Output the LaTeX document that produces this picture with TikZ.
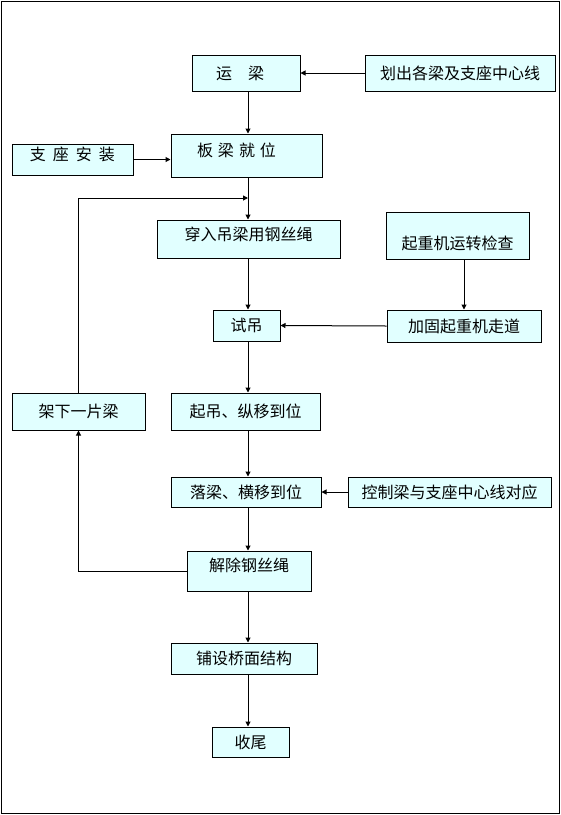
\documentclass[tikz,border=0pt]{standalone}
\usepackage{fontspec}
\usepackage{xcolor}
\usepackage{tikz}
\usetikzlibrary{arrows.meta}
\newfontfamily\cjk{Noto Sans CJK SC}
\definecolor{boxcyan}{HTML}{E1FFFF}
\newcommand\nudge[3]{\hspace*{#1}\raisebox{#2}[\height][\depth]{#3}\hspace*{-#1}}

\begin{document}
\begin{tikzpicture}[x=1pt,y=-1pt,
  box/.style={draw,fill=boxcyan,inner sep=0pt,line width=1pt},
  flow/.style={line width=1pt,-{Triangle[length=5pt,width=5pt]}},
  every node/.style={font=\cjk\fontsize{16}{18}\selectfont}]
  \useasboundingbox (0,0) rectangle (561,815);
  \draw[line width=1pt] (1,1) rectangle (559,813);
  % main column
  \node[box,minimum width=108pt,minimum height=36pt] (yunliang) at (246,73) {\nudge{-6pt}{0pt}{运\hspace{16pt}梁}};
  \node[box,minimum width=151pt,minimum height=43pt] (banliang) at (246.5,155.5)
    {\nudge{-10pt}{5.5pt}{板\hspace{5pt}梁\hspace{5pt}就\hspace{5pt}位}};
  \node[box,minimum width=183pt,minimum height=38pt] (chuanru) at (248.5,239) {\nudge{0pt}{5pt}{穿入吊梁用钢丝绳}};
  \node[box,minimum width=67pt,minimum height=31pt] (shidiao) at (246.5,325.5) {试吊};
  \node[box,minimum width=149pt,minimum height=37pt] (qidiao) at (245.5,411.5) {起吊、纵移到位};
  \node[box,minimum width=150pt,minimum height=30pt] (luoliang) at (246,492) {落梁、横移到位};
  \node[box,minimum width=124pt,minimum height=40pt] (jiechu) at (249,571) {\nudge{0pt}{6pt}{解除钢丝绳}};
  \node[box,minimum width=146pt,minimum height=31pt] (puse) at (244,658.5) {铺设桥面结构};
  \node[box,minimum width=77pt,minimum height=30pt] (shouwei) at (250.5,742) {收尾};
  % side boxes
  \node[box,minimum width=190pt,minimum height=36pt] (huachu) at (460,73) {划出各梁及支座中心线};
  \node[box,minimum width=121pt,minimum height=31pt] (zhizuo) at (72.5,159.5)
    {\nudge{0pt}{5pt}{支\hspace{7pt}座\hspace{7pt}安\hspace{7pt}装}};
  \node[box,minimum width=143pt,minimum height=47pt] (qizhongji) at (457.5,235.5) {\nudge{0pt}{-7.5pt}{起重机运转检查}};
  \node[box,minimum width=154pt,minimum height=32pt] (jiagu) at (464,326) {加固起重机走道};
  \node[box,minimum width=133pt,minimum height=37pt] (jiaxia) at (78.5,411.5) {架下一片梁};
  \node[box,minimum width=203pt,minimum height=30pt] (kongzhi) at (449.5,492) {控制梁与支座中心线对应};
  \coordinate (spine) at (248,0);
  \coordinate (loopin) at (248,198);
  % connectors
  \draw[flow] (huachu.west) -- (yunliang.east);
  \draw[flow] (yunliang.south -| spine) -- (banliang.north -| spine);
  \draw[flow] (zhizuo.east) -- (zhizuo.east -| banliang.west);
  \draw[flow] (banliang.south -| spine) -- (chuanru.north -| spine);
  \draw[flow] (chuanru.south -| spine) -- (shidiao.north -| spine);
  \draw[flow] (qizhongji.south -| jiagu.north) -- (jiagu.north);
  \draw[flow] (jiagu.west) -- (shidiao.east);
  \draw[flow] (shidiao.south -| spine) -- (qidiao.north -| spine);
  \draw[flow] (qidiao.south -| spine) -- (luoliang.north -| spine);
  \draw[flow] (kongzhi.west) -- (luoliang.east);
  \draw[flow] (luoliang.south -| spine) -- (jiechu.north -| spine);
  \draw[flow] (jiechu.west) -| (jiaxia.south);
  \draw[flow] (jiaxia.north) |- (loopin);
  \draw[flow] (jiechu.south -| spine) -- (puse.north -| spine);
  \draw[flow] (puse.south -| spine) -- (shouwei.north -| spine);
\end{tikzpicture}
\end{document}
